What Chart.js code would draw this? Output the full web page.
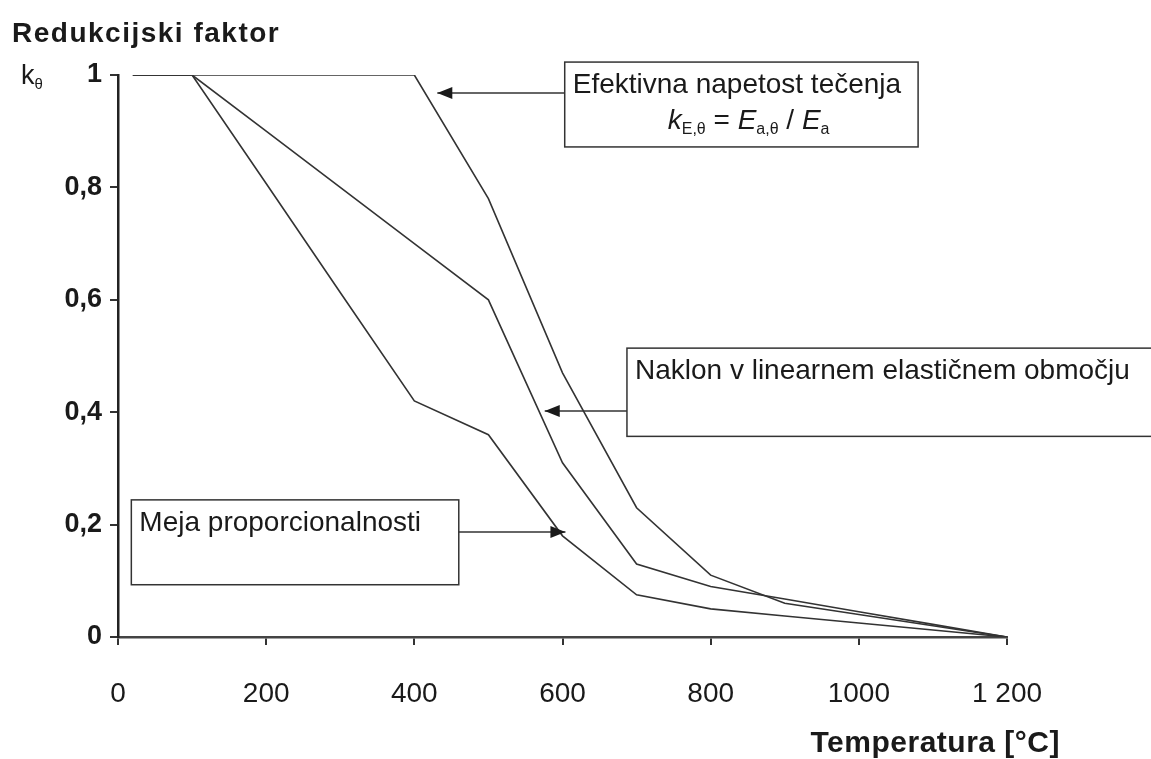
<!DOCTYPE html>
<html>
<head>
  <script src="https://cdn.jsdelivr.net/npm/chart.js"></script>
  <title>Redukcijski faktor</title>
  <style>
    html, body { margin: 0; padding: 0; background: #fff; }
    #wrap { width: 1151px; height: 759px; position: relative; }
  </style>
</head>
<body>
  <div id="wrap">
    <canvas id="kChart" width="1151" height="759"></canvas>
  </div>

  <script>
    // temperatures [°C] and reduction factors
    const temps = [20, 100, 200, 300, 400, 500, 600, 700, 800, 900, 1000, 1100, 1200];
    const kYield = [1, 1, 1, 1, 1, 0.78, 0.47, 0.23, 0.11, 0.06, 0.04, 0.02, 0];
    const kModulus = [1, 1, 0.9, 0.8, 0.7, 0.6, 0.31, 0.13, 0.09, 0.0675, 0.045, 0.0225, 0];
    const kProp = [1, 1, 0.807, 0.613, 0.42, 0.36, 0.18, 0.075, 0.05, 0.0375, 0.025, 0.0125, 0];

    const xTicks = [0, 200, 400, 600, 800, 1000, 1200];
    const xTickLabels = ['0', '200', '400', '600', '800', '1000', '1 200'];
    const yTickLabels = ['0', '0,2', '0,4', '0,6', '0,8', '1'];

    // annotation boxes (in data units) and arrow tips
    const notes = [
      { text: 'Efektivna napetost tečenja', box: [603, 1080, 1.023, 0.872], from: [603, 0.968], to: [431, 0.968] },
      { text: 'Naklon v linearnem elastičnem območju', box: [687, 1400, 0.514, 0.357], from: [687, 0.402], to: [576, 0.402] },
      { text: 'Meja proporcionalnosti', box: [18, 460, 0.244, 0.093], from: [460, 0.187], to: [604, 0.187] }
    ];

    const FONT = '"Liberation Sans", Arial, sans-serif';
    const ink = '#333';

    function toPts(ys) {
      return temps.map((t, i) => ({ x: t, y: ys[i] }));
    }

    function arrowHead(ctx, x0, y0, x1, y1) {
      const a = Math.atan2(y1 - y0, x1 - x0);
      const len = 15, half = 6;
      ctx.beginPath();
      ctx.moveTo(x1, y1);
      ctx.lineTo(x1 - len * Math.cos(a) + half * Math.sin(a), y1 - len * Math.sin(a) - half * Math.cos(a));
      ctx.lineTo(x1 - len * Math.cos(a) - half * Math.sin(a), y1 - len * Math.sin(a) + half * Math.cos(a));
      ctx.closePath();
      ctx.fill();
    }

    // draws text with subscripts like k_E,θ in a row
    function richText(ctx, parts, x, y, size, subSize) {
      parts.forEach(p => {
        ctx.font = (p.italic ? 'italic ' : '') + (p.sub ? subSize : size) + 'px ' + FONT;
        ctx.fillText(p.t, x, p.sub ? y + 5 : y);
        x += ctx.measureText(p.t).width;
      });
      return x;
    }

    const decor = {
      id: 'decor',
      afterDraw(chart) {
        const ctx = chart.ctx;
        const xs = chart.scales.x, ys = chart.scales.y;
        ctx.save();
        ctx.fillStyle = '#1a1a1a';
        ctx.textBaseline = 'alphabetic';
        ctx.textAlign = 'left';

        // title and axis names
        ctx.letterSpacing = '1.5px';
        ctx.font = 'bold 28px ' + FONT;
        ctx.fillText('Redukcijski faktor', 12, 42);
        ctx.letterSpacing = '0.5px';
        ctx.font = 'bold 30px ' + FONT;
        ctx.textAlign = 'right';
        ctx.fillText('Temperatura [°C]', 1060, 752);
        ctx.letterSpacing = '0px';
        ctx.textAlign = 'left';
        richText(ctx, [{ t: 'k' }, { t: 'θ', sub: true }], 21, 84, 27, 15);

        // boxes with arrows
        ctx.strokeStyle = '#333';
        ctx.lineWidth = 1.5;
        notes.forEach((n, i) => {
          const l = xs.getPixelForValue(n.box[0]), r = xs.getPixelForValue(n.box[1]);
          const t = ys.getPixelForValue(n.box[2]), b = ys.getPixelForValue(n.box[3]);
          ctx.strokeRect(l, t, r - l, b - t);
          ctx.font = '28px ' + FONT;
          ctx.fillStyle = '#1a1a1a';
          ctx.fillText(n.text, l + 8, t + 31);
          const fx = xs.getPixelForValue(n.from[0]), fy = ys.getPixelForValue(n.from[1]);
          const tx = xs.getPixelForValue(n.to[0]), ty = ys.getPixelForValue(n.to[1]);
          ctx.beginPath();
          ctx.moveTo(fx, fy);
          ctx.lineTo(tx, ty);
          ctx.stroke();
          arrowHead(ctx, fx, fy, tx, ty);
          if (i === 0) {
            richText(ctx, [
              { t: 'k', italic: true }, { t: 'E,θ', sub: true },
              { t: ' = ' }, { t: 'E', italic: true }, { t: 'a,θ', sub: true },
              { t: ' / ' }, { t: 'E', italic: true }, { t: 'a', sub: true }
            ], l + 103, t + 67, 28, 16);
          }
        });
        ctx.restore();
      }
    };

    const lineStyle = { borderColor: ink, borderWidth: 1.6, pointRadius: 0, fill: false, tension: 0 };

    new Chart(document.getElementById('kChart'), {
      type: 'line',
      data: {
        datasets: [
          Object.assign({ label: 'Efektivna napetost tečenja', data: toPts(kYield) }, lineStyle),
          Object.assign({ label: 'Naklon v linearnem elastičnem območju', data: toPts(kModulus) }, lineStyle),
          Object.assign({ label: 'Meja proporcionalnosti', data: toPts(kProp) }, lineStyle)
        ]
      },
      options: {
        responsive: false,
        animation: false,
        layout: { padding: { top: 75, right: 144, left: 0, bottom: 0 } },
        plugins: { legend: { display: false }, tooltip: { enabled: false } },
        scales: {
          x: {
            type: 'linear', min: 0, max: 1200,
            afterBuildTicks: s => { s.ticks = xTicks.map(v => ({ value: v })); },
            afterFit: s => { s.height = 122; },
            border: { display: true, color: '#444', width: 2.5 },
            grid: { drawOnChartArea: false, drawTicks: true, tickLength: 8, color: '#333', lineWidth: 2 },
            ticks: {
              padding: 32, color: '#1a1a1a', maxRotation: 0,
              font: { family: FONT, size: 28 },
              callback: (v, i) => xTickLabels[i]
            }
          },
          y: {
            min: 0, max: 1,
            afterBuildTicks: s => { s.ticks = yTickLabels.map((_, i) => ({ value: i * 0.2 })); },
            afterFit: s => { s.width = 118; },
            border: { display: true, color: '#222', width: 2.5 },
            grid: { drawOnChartArea: false, drawTicks: true, tickLength: 8, color: '#333', lineWidth: 2 },
            ticks: {
              padding: 8, color: '#1a1a1a',
              font: { family: FONT, size: 27, weight: 'bold' },
              callback: (v, i) => yTickLabels[i]
            }
          }
        }
      },
      plugins: [decor]
    });
  </script>
</body>
</html>
